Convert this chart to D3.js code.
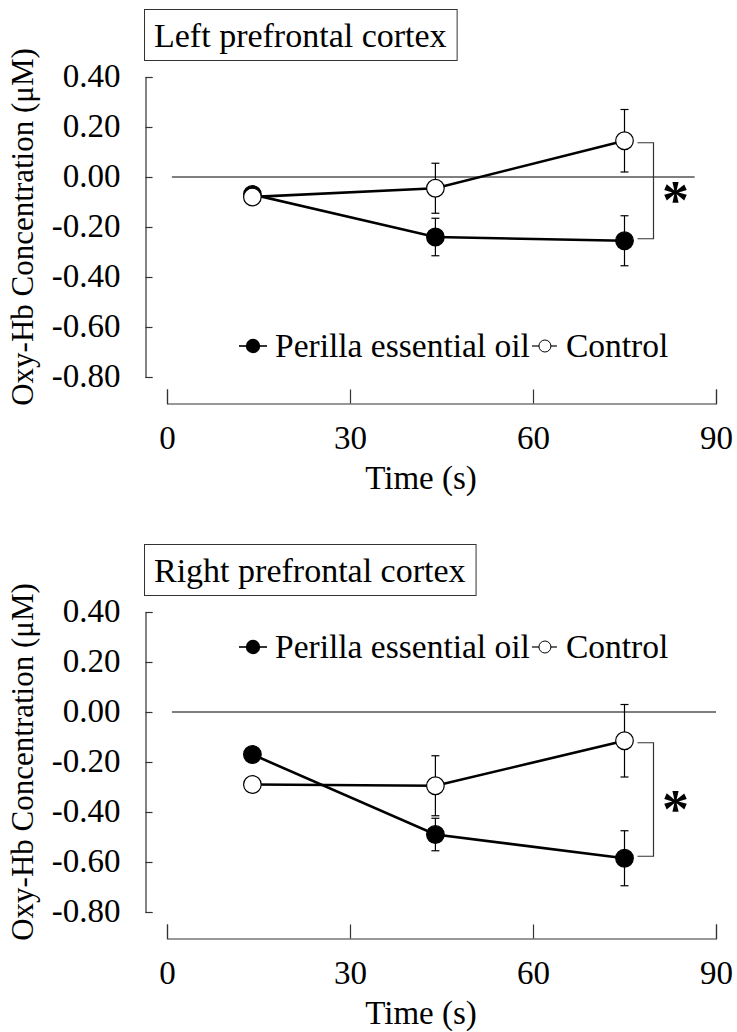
<!DOCTYPE html>
<html>
<head>
<meta charset="utf-8">
<script src="https://cdn.jsdelivr.net/npm/d3@7"></script>
<style>
  body { margin: 0; background: #fff; }
  svg { display: block; }
  text { font-family: "Liberation Serif", "Times New Roman", serif; fill: #000; }
</style>
</head>
<body>
<div id="chart"></div>
<script>
// time points (s)
const times = [14, 44, 75];
// left prefrontal cortex
const leftOil = [-0.07, -0.24, -0.255];
const leftOilErr = [0, 0.075, 0.10];
const leftControl = [-0.08, -0.045, 0.145];
const leftControlErr = [0, 0.10, 0.125];
// right prefrontal cortex
const rightOil = [-0.17, -0.49, -0.585];
const rightOilErr = [0, 0.065, 0.11];
const rightControl = [-0.29, -0.295, -0.115];
const rightControlErr = [0, 0.12, 0.145];
// axes
const xTicks = [0, 30, 60, 90];
const yTicks = [0.4, 0.2, 0, -0.2, -0.4, -0.6, -0.8];
const seriesNames = ['Perilla essential oil', 'Control'];
const panelTitles = ['Left prefrontal cortex', 'Right prefrontal cortex'];

const width = 737, height = 1032;
const svg = d3.select('#chart').append('svg')
    .attr('width', width)
    .attr('height', height);

/**
 * Draws one panel of the figure
 */
function drawPanel(oy, title, oil, oilErr, control, controlErr, legendY, zeroEnd) {
    const g = svg.append('g').attr('transform', `translate(0,${oy})`);

    // scales
    let x = d3.scaleLinear().domain([0, 90]).range([167, 716]);
    let y = d3.scaleLinear().domain([-0.8, 0.4]).range([377, 77]);

    // title box
    let titleText = g.append('text')
        .attr('x', 154)
        .attr('y', 47)
        .attr('font-size', '34px')
        .text(title);
    let tw = titleText.node().getComputedTextLength();
    g.insert('rect', 'text')
        .attr('x', 144.5).attr('y', 9.5)
        .attr('width', tw + 20).attr('height', 51)
        .attr('fill', 'none').attr('stroke', '#333').attr('stroke-width', 1);

    // y axis (ticks point inward)
    let yAxis = d3.axisLeft(y)
        .tickValues(yTicks)
        .tickSize(-7)
        .tickPadding(25)
        .tickFormat(d => d.toFixed(2));
    let ya = g.append('g').attr('transform', 'translate(145.5,0)').call(yAxis);
    ya.selectAll('text').attr('font-size', '33px').attr('dy', '0.3em')
        .attr('font-family', '"Liberation Serif", serif');

    // x axis (ticks point up, labels below)
    let xAxis = d3.axisBottom(x)
        .tickValues(xTicks)
        .tickSize(-14)
        .tickPadding(22)
        .tickFormat(d3.format('d'));
    let xa = g.append('g').attr('transform', 'translate(0,403.5)').call(xAxis);
    xa.selectAll('text').attr('font-size', '33px')
        .attr('font-family', '"Liberation Serif", serif');

    g.selectAll('.domain, .tick line').attr('stroke', '#333').attr('stroke-width', 1.2);

    // axis titles
    g.append('text')
        .attr('transform', `translate(33,${y(-0.2)}) rotate(-90)`)
        .attr('text-anchor', 'middle')
        .attr('font-size', '31px')
        .text('Oxy-Hb Concentration (\u03bcM)');
    g.append('text')
        .attr('x', 421)
        .attr('y', 489)
        .attr('text-anchor', 'middle')
        .attr('font-size', '33px')
        .text('Time (s)');

    // zero line
    g.append('line')
        .attr('x1', x(0.8)).attr('x2', x(zeroEnd))
        .attr('y1', y(0)).attr('y2', y(0))
        .attr('stroke', '#555').attr('stroke-width', 1.3);

    let series = [
        {values: control, err: controlErr, fill: '#fff'},
        {values: oil, err: oilErr, fill: '#000'}
    ];

    // error bars
    series.forEach(s => {
        let eb = g.append('g');
        times.forEach((t, i) => {
            if (!s.err[i]) return;
            let top = y(s.values[i] + s.err[i]), bot = y(s.values[i] - s.err[i]);
            eb.append('line').attr('x1', x(t)).attr('x2', x(t)).attr('y1', top).attr('y2', bot);
            eb.append('line').attr('x1', x(t) - 4).attr('x2', x(t) + 4).attr('y1', top).attr('y2', top);
            eb.append('line').attr('x1', x(t) - 4).attr('x2', x(t) + 4).attr('y1', bot).attr('y2', bot);
        });
        eb.selectAll('line').attr('stroke', '#000').attr('stroke-width', 1.2);
    });

    // lines
    let line = d3.line().x((d, i) => x(times[i])).y(d => y(d));
    series.forEach(s => {
        g.append('path').datum(s.values)
            .attr('d', line)
            .attr('fill', 'none')
            .attr('stroke', '#000')
            .attr('stroke-width', 2.6);
    });

    // markers (filled first, open on top)
    [series[1], series[0]].forEach(s => {
        g.selectAll(null).data(s.values).enter().append('circle')
            .attr('cx', (d, i) => x(times[i]))
            .attr('cy', d => y(d))
            .attr('r', 8.8)
            .attr('fill', s.fill)
            .attr('stroke', '#000')
            .attr('stroke-width', 1.2);
    });

    // significance bracket
    let last = times.length - 1;
    let bx = x(times[last]);
    let yTop = y(control[last]) + 2, yBot = y(oil[last]) - 2;
    g.append('path')
        .attr('d', `M${bx + 13},${yTop}H${bx + 29}V${yBot}H${bx + 13}`)
        .attr('fill', 'none').attr('stroke', '#333').attr('stroke-width', 1.2);
    g.append('text')
        .attr('x', bx + 51)
        .attr('y', (yTop + yBot) / 2 + 27)
        .attr('text-anchor', 'middle')
        .attr('font-size', '54px')
        .attr('font-weight', 'bold')
        .text('*');

    // legend
    let lg = g.append('g').attr('transform', `translate(0,${legendY})`);
    lg.append('line').attr('x1', 239).attr('x2', 267).attr('y1', 0).attr('y2', 0)
        .attr('stroke', '#000').attr('stroke-width', 1.6);
    lg.append('circle').attr('cx', 253).attr('cy', 0).attr('r', 7.2).attr('fill', '#000');
    let t1 = lg.append('text').attr('x', 275).attr('y', 11).attr('font-size', '33.5px').text(seriesNames[0]);
    let end1 = 275 + t1.node().getComputedTextLength();
    let mx = end1 + 15;
    lg.append('line').attr('x1', mx - 13).attr('x2', mx + 12).attr('y1', 0).attr('y2', 0)
        .attr('stroke', '#000').attr('stroke-width', 1.2);
    lg.append('circle').attr('cx', mx).attr('cy', 0).attr('r', 6).attr('fill', '#fff')
        .attr('stroke', '#000').attr('stroke-width', 1);
    lg.append('text').attr('x', mx + 21).attr('y', 11).attr('font-size', '33.5px').text(seriesNames[1]);
}

drawPanel(0, panelTitles[0], leftOil, leftOilErr, leftControl, leftControlErr, 346, 86.5);
drawPanel(535, panelTitles[1], rightOil, rightOilErr, rightControl, rightControlErr, 112, 90);
</script>
</body>
</html>
